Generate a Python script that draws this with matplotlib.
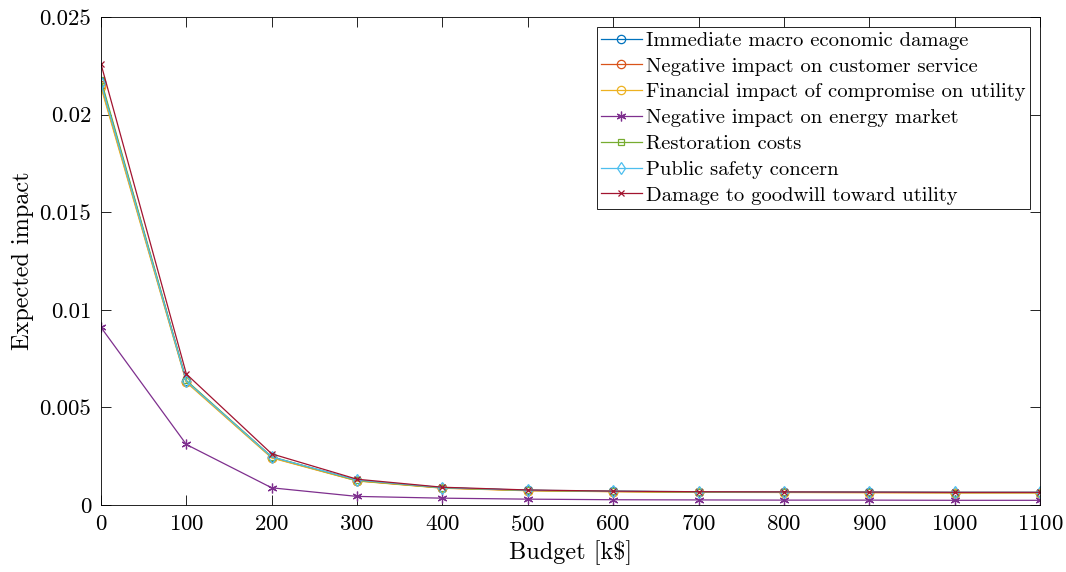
import matplotlib.pyplot as plt

plt.rcParams['font.family'] = 'cmr10'
plt.rcParams['mathtext.fontset'] = 'cm'
plt.rcParams['axes.formatter.use_mathtext'] = True

budget = [0, 100, 200, 300, 400, 500, 600, 700, 800, 900, 1000, 1100]

macro = [0.02167, 0.00635, 0.00245, 0.00125, 0.00088, 0.00075, 0.00070, 0.00067, 0.00066, 0.00065, 0.00064, 0.00064]
customer = [0.02150, 0.00632, 0.00243, 0.00124, 0.00087, 0.00074, 0.00069, 0.00066, 0.00065, 0.00064, 0.00063, 0.00063]
financial = [0.02140, 0.00628, 0.00241, 0.00123, 0.00086, 0.00073, 0.00068, 0.00065, 0.00064, 0.00063, 0.00062, 0.00062]
market = [0.00910, 0.00310, 0.00088, 0.00044, 0.00035, 0.00030, 0.00027, 0.00026, 0.00025, 0.00025, 0.00024, 0.00024]
restoration = [0.02178, 0.00638, 0.00247, 0.00126, 0.00088, 0.00075, 0.00070, 0.00067, 0.00066, 0.00065, 0.00064, 0.00064]
safety = [0.02160, 0.00634, 0.00246, 0.00128, 0.00089, 0.00076, 0.00071, 0.00068, 0.00067, 0.00066, 0.00065, 0.00065]
goodwill = [0.02259, 0.00671, 0.00262, 0.00132, 0.00091, 0.00077, 0.00071, 0.00068, 0.00067, 0.00066, 0.00065, 0.00065]

names = ['Immediate macro economic damage',
         'Negative impact on customer service',
         'Financial impact of compromise on utility',
         'Negative impact on energy market',
         'Restoration costs',
         'Public safety concern',
         'Damage to goodwill toward utility']
series = [macro, customer, financial, market, restoration, safety, goodwill]
colors = ['#0072BD', '#D95319', '#EDB120', '#7E2F8E', '#77AC30', '#4DBEEE', '#A2142F']
markers = ['o', 'o', 'o', (6, 2, 0), 's', 'd', 'x']
msizes = [6, 6, 6, 7, 5, 6, 5]

fig = plt.figure(figsize=(10.66, 5.72), dpi=100)
ax = fig.add_axes([101 / 1066, 1 - 505 / 572, (1040 - 101) / 1066, (505 - 17) / 572])

for vals, name, c, m, ms in zip(series, names, colors, markers, msizes):
    ax.plot(budget, vals, color=c, marker=m, markersize=ms, markerfacecolor='none',
            markeredgecolor=c, linewidth=0.9, markeredgewidth=0.9, label=name)

ax.set_xlim(0, 1100)
ax.set_ylim(0, 0.025)
ax.set_xticks(budget)
ax.set_yticks([0, 0.005, 0.01, 0.015, 0.02, 0.025])
ax.set_yticklabels(['0', '0.005', '0.01', '0.015', '0.02', '0.025'])
ax.tick_params(direction='in', top=True, right=True, length=7, width=0.6,
               labelsize=16.5, pad=7)
for s in ax.spines.values():
    s.set_linewidth(0.6)

ax.set_xlabel('Budget [k\\$]', fontsize=17.5, labelpad=4)
ax.set_ylabel('Expected impact', fontsize=17.5, labelpad=4)

leg = ax.legend(loc='upper right', fontsize=14.8, fancybox=False, framealpha=1,
                edgecolor='black', borderpad=0.2, labelspacing=0.36,
                handlelength=2.0, handletextpad=0.2, borderaxespad=0.5)
leg.get_frame().set_linewidth(0.6)

fig.savefig('out.png', dpi=100)
